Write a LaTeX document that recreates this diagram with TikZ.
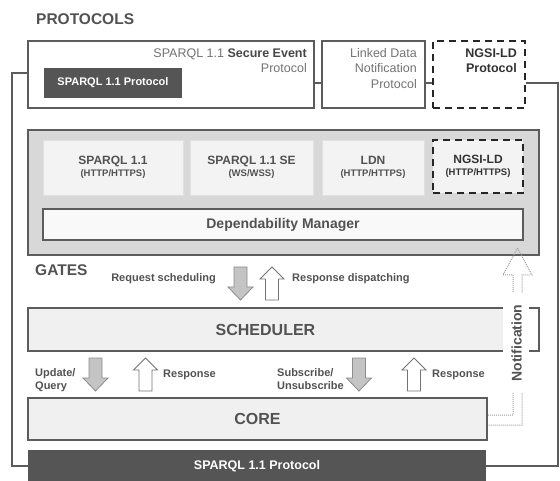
\documentclass[tikz,border=0pt]{standalone}
\usepackage{fontspec}
\setmainfont{Liberation Sans}
\usepackage{tikz}
\usetikzlibrary{positioning}
\usetikzlibrary{calc}

\newcommand{\fsz}[2]{\fontsize{#1}{#2}\selectfont}

\tikzset{
  protobox/.style={draw=linegray, line width=1.6pt, fill=white, inner sep=0pt},
  dashbox/.style={draw=black!85, line width=2pt, dash pattern=on 7pt off 5pt, inner sep=0pt},
  darkbox/.style={fill=darkfill, text=white, inner sep=0pt},
  panel/.style={fill=panelgray, draw=linegray, line width=1.6pt},
  gatebox/.style={fill=boxgray, draw=black!12, line width=0.6pt, align=center, text=txtgray, font=\bfseries},
  layerbox/.style={fill=layerfill, draw=linegray, line width=1.6pt, text=txtgray, inner sep=0pt},
  layerline/.style={draw=linegray, line width=1.6pt},
  conn/.style={draw=linegray, line width=1.5pt},
  lbl/.style={text=txtgray, font=\bfseries\fsz{11}{13}, inner sep=0pt},
  notifarrow/.style={draw=black!38, line width=1pt, densely dotted},
  downblock/.pic={
    \filldraw[fill=arrowgray, draw=black!45, line width=0.8pt]
      (-6.5,0) -- (6.5,0) -- (6.5,20) -- (12.5,20) -- (0,33) -- (-12.5,20) -- (-6.5,20) -- cycle;
  },
  upblock/.pic={
    \filldraw[fill=white, draw=black!55, line width=0.8pt]
      (0,0) -- (12,12) -- (6.5,12) -- (6.5,33) -- (-6.5,33) -- (-6.5,12) -- (-12,12) -- cycle;
  }
}

\begin{document}
\begin{tikzpicture}[x=1pt, y=-1pt]
  \definecolor{txtgray}{RGB}{82,82,82}
  \definecolor{linegray}{RGB}{92,92,92}
  \definecolor{panelgray}{RGB}{216,216,216}
  \definecolor{boxgray}{RGB}{243,243,243}
  \definecolor{layerfill}{RGB}{240,240,240}
  \definecolor{darkfill}{RGB}{85,85,85}
  \definecolor{arrowgray}{RGB}{196,196,196}

  \fill[white] (0,0) rectangle (560,481);
  \useasboundingbox (0,0) rectangle (560,481);

  % protocols
  \node[anchor=base west, inner sep=0pt, text=txtgray, font=\bfseries\fsz{15.5}{18}] (title) at (36,25) {PROTOCOLS};

  \node[protobox, minimum width=286pt, minimum height=67pt] (se) at (171,74.5) {};
  \node[anchor=north east, align=right, inner sep=0pt, text=black!55, font=\fsz{12.5}{15}] (setxt) at (307,49)
    {SPARQL 1.1 \textbf{\color{black!72}Secure Event}\\Protocol};
  \node[darkbox, minimum width=138pt, minimum height=30pt, font=\bfseries\fsz{11}{13}] (seproto) at (113,83) {SPARQL 1.1 Protocol};

  \node[protobox, minimum width=103pt, minimum height=67pt] (ldn) at (373.5,74.5) {};
  \node[anchor=north east, align=right, inner sep=0pt, text=black!55, font=\fsz{12.5}{15.5}] (ldntxt) at (417,48)
    {Linked Data\\Notification\\Protocol};

  \node[dashbox, minimum width=92pt, minimum height=67pt] (ngsi) at (479,74.5) {};
  \node[anchor=north east, align=right, inner sep=0pt, text=black!80, font=\bfseries\fsz{12.5}{15}] (ngsitxt) at (517,49)
    {NGSI-LD\\Protocol};

  % gates
  \node[panel, minimum width=511pt, minimum height=125pt] (gates) at (283.5,192.5) {};
  \node[gatebox, minimum width=140pt, minimum height=55pt] (gsparql) at (113,167.5)
    {\fsz{12}{12}SPARQL 1.1\\\fsz{9.5}{12}(HTTP/HTTPS)};
  \node[gatebox, minimum width=123pt, minimum height=55pt] (gse) at (251.5,167.5)
    {\fsz{12}{12}SPARQL 1.1 SE\\\fsz{9.5}{12}(WS/WSS)};
  \node[gatebox, minimum width=102pt, minimum height=55pt] (gldn) at (373,167.5)
    {\fsz{12}{12}LDN\\\fsz{9.5}{12}(HTTP/HTTPS)};
  \node[gatebox, dashbox, text=black!80, minimum width=90pt, minimum height=53pt] (gngsi) at (478,166.5)
    {\fsz{12}{12}NGSI-LD\\\fsz{9.5}{12}(HTTP/HTTPS)};
  \node[layerbox, fill=white!60!layerfill, minimum width=480pt, minimum height=31pt, font=\bfseries\fsz{14}{16}] (dm) at (283,224.5) {Dependability Manager};

  \node[anchor=base west, inner sep=0pt, text=txtgray, font=\bfseries\fsz{15.5}{18}] (gatestxt) at (35,276) {GATES};

  \pic at (240.5,267) {downblock};
  \pic at (272,267) {upblock};
  \node[lbl, anchor=base east] (reqtxt) at (216,282) {Request scheduling};
  \node[lbl, anchor=base west] (resptxt) at (292,282) {Response dispatching};

  % scheduler
  \node[fill=layerfill, text=txtgray, inner sep=0pt, minimum width=475pt, minimum height=43pt, font=\bfseries\fsz{16}{18}] (sched) at (265.5,329.5) {SCHEDULER};
  \draw[layerline] (sched.north east) -- (sched.north west) -- (sched.south west) -- (sched.south east);
  \draw[layerline] ([xshift=26pt]sched.north east) -- ++(10,0) |- ([xshift=26pt]sched.south east);

  \pic at (95.5,358) {downblock};
  \pic at (145.5,358) {upblock};
  \pic at (359,358) {downblock};
  \pic at (414,358) {upblock};
  \node[lbl, anchor=north west, align=left] (updtxt) at (35,368) {Update/\\Query};
  \node[lbl, anchor=base west] (resp1) at (163,377) {Response};
  \node[lbl, anchor=north west, align=left] (subtxt) at (277,368) {Subscribe/\\Unsubscribe};
  \node[lbl, anchor=base west] (resp2) at (432,377) {Response};

  % core and bottom
  \node[layerbox, minimum width=459pt, minimum height=42pt, font=\bfseries\fsz{16}{18}] (core) at (257.5,419) {CORE};
  \node[darkbox, minimum width=458pt, minimum height=32pt, font=\bfseries\fsz{12.5}{14}] (bot) at (257,466) {SPARQL 1.1 Protocol};

  % notification
  \draw[notifarrow] ([yshift=4pt]core.east) -| (513,275) -- (503,275) -- (517.5,248) -- (532,275) -- (522,275) |- ([yshift=-6pt]core.east);
  \node[rotate=90, fill=white, inner sep=0pt, text=txtgray, minimum width=100pt, minimum height=24pt, font=\bfseries\fsz{14}{16}] (notif) at (516.5,343) {Notification};

  % connectors
  \draw[conn] ([yshift=-8.5pt]se.east) -- ([yshift=-8.5pt]ldn.west);
  \draw[conn] ([yshift=-8.5pt]ldn.east) -- ([yshift=-8.5pt]ngsi.west);
  \draw[conn] ([yshift=-8.5pt]ngsi.east) -- ++(32,0) |- (bot.east);
  \draw[conn] ([yshift=1.5pt]se.west) -- ++(-15,0) |- (bot.west);
\end{tikzpicture}
\end{document}
